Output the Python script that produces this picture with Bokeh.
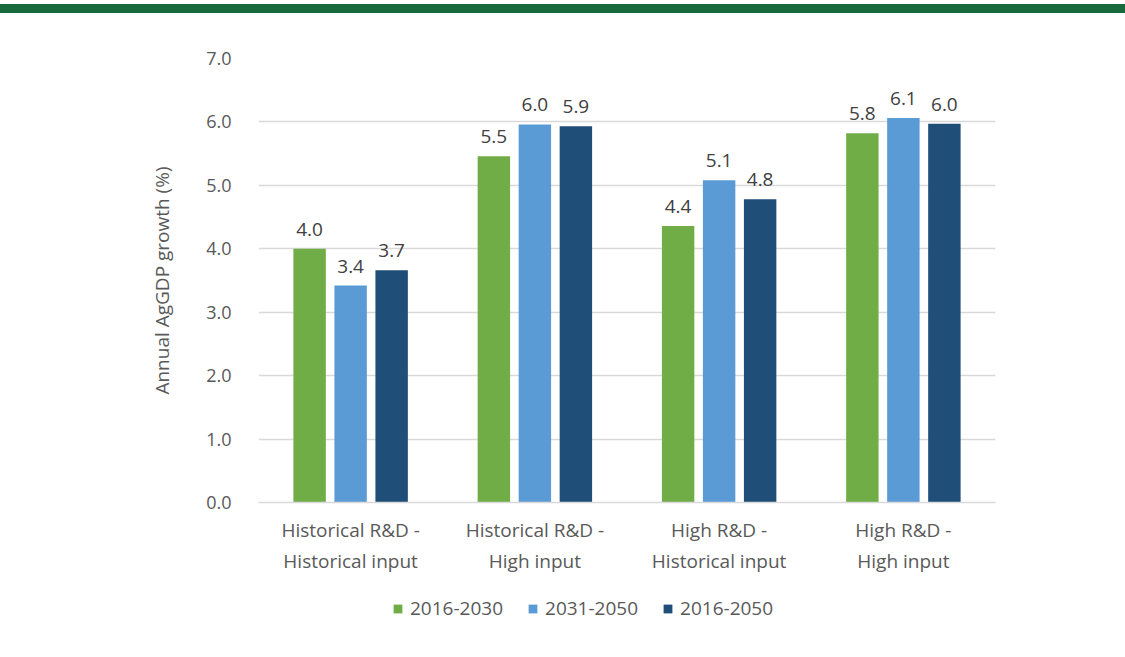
from bokeh.plotting import figure
from bokeh.models import (FactorRange, ColumnDataSource, LabelSet, Div, Legend, LegendItem,
                          CustomJSTickFormatter, Range1d)
from bokeh.transform import dodge
from bokeh.layouts import column
from bokeh.embed import file_html
from bokeh.resources import INLINE
from bokeh.core.properties import value

categories = ["Historical R&D -\nHistorical input", "Historical R&D -\nHigh input",
              "High R&D -\nHistorical input", "High R&D -\nHigh input"]
series_names = ["2016-2030", "2031-2050", "2016-2050"]
v_2016_2030 = [4.0, 5.46, 4.36, 5.82]
v_2031_2050 = [3.42, 5.96, 5.08, 6.06]
v_2016_2050 = [3.66, 5.93, 4.78, 5.97]
colors = ["#70AD47", "#5B9BD5", "#1F4E79"]
y_ticks = [0, 1, 2, 3, 4, 5, 6, 7]

FONT = "Open Sans"
TXT = "#595959"

src = ColumnDataSource(dict(
    cat=categories,
    a=v_2016_2030, b=v_2031_2050, c=v_2016_2050,
    la=[f"{v:.1f}" for v in v_2016_2030],
    lb=[f"{v:.1f}" for v in v_2031_2050],
    lc=[f"{v:.1f}" for v in v_2016_2050],
))

W = 1125
BAND = 13
MAIN_H = 567
LEG_H = 657 - BAND - MAIN_H

p = figure(x_range=FactorRange(factors=categories), y_range=(0, 7),
           width=W, height=MAIN_H, output_backend="svg", toolbar_location=None,
           min_border_left=258, min_border_right=130, min_border_top=45, min_border_bottom=78)
p.outline_line_color = None
p.background_fill_color = "white"
p.border_fill_color = "white"

offsets = [-0.2226, 0.0, 0.2226]
cols = ["a", "b", "c"]
lcols = ["la", "lb", "lc"]
for off, col, lcol, colr in zip(offsets, cols, lcols, colors):
    p.vbar(x=dodge("cat", off, range=p.x_range), top=col, width=0.176, source=src,
           fill_color=colr, line_color=None)
    labels = LabelSet(x=dodge("cat", off, range=p.x_range), y=col, text=lcol, source=src,
                      text_align="center", text_baseline="bottom", y_offset=13,
                      text_font=value(FONT), text_font_size="19px", text_color="#404040")
    p.add_layout(labels)

p.yaxis.ticker = y_ticks
p.yaxis.formatter = CustomJSTickFormatter(code="return tick.toFixed(1);")
p.yaxis.axis_line_color = None
p.yaxis.major_tick_line_color = None
p.yaxis.minor_tick_line_color = None
p.yaxis.major_label_standoff = 21
p.yaxis.major_label_text_font = FONT
p.yaxis.major_label_text_font_size = "18px"
p.yaxis.major_label_text_color = TXT
p.yaxis.axis_label = "Annual AgGDP growth (%)"
p.yaxis.axis_label_text_font = FONT
p.yaxis.axis_label_text_font_size = "19px"
p.yaxis.axis_label_text_font_style = "normal"
p.yaxis.axis_label_text_color = TXT
p.yaxis.axis_label_standoff = 28

p.xaxis.axis_line_color = "#d9d9d9"
p.xaxis.axis_line_width = 1.5
p.xaxis.major_tick_line_color = None
p.xaxis.minor_tick_line_color = None
p.xaxis.major_label_standoff = 8
p.xaxis.major_label_text_font = FONT
p.xaxis.major_label_text_font_size = "19px"
p.xaxis.major_label_text_color = TXT

p.xgrid.grid_line_color = None
p.ygrid.grid_line_color = "#d9d9d9"
p.ygrid.grid_line_width = 1.5

# legend strip (its frame is aligned with the main frame by the column layout)
lp = figure(width=W, height=LEG_H, output_backend="svg", toolbar_location=None,
            x_range=FactorRange(factors=categories), y_range=Range1d(10, 20),
            min_border_left=0, min_border_right=0, min_border_top=0, min_border_bottom=0)
lp.axis.visible = False
lp.grid.visible = False
lp.outline_line_color = None
lp.border_fill_color = "white"
lp.background_fill_color = "white"
leg_renderers = []
for col, colr in zip(cols, colors):
    leg_renderers.append(lp.vbar(x="cat", top=col, bottom=col, width=0.1, source=src,
                                 fill_color=colr, line_color=None, visible=False))
legend = Legend(items=[LegendItem(label=n, renderers=[r]) for n, r in zip(series_names, leg_renderers)],
                orientation="horizontal", location=(134, LEG_H - 41),
                padding=0, margin=0, spacing=24, label_standoff=7,
                glyph_width=11, glyph_height=11,
                inactive_fill_alpha=0,
                label_text_font=FONT, label_text_font_size="19px", label_text_color=TXT,
                border_line_color=None, background_fill_alpha=0)
lp.add_layout(legend)

band = Div(text="", width=W, height=BAND,
           styles={"background": "linear-gradient(to bottom, #ffffff 0px, #ffffff 4px, #17693B 4px, #17693B 13px)",
                   "margin": "0"})
layout = column(band, p, lp, spacing=0)

open("out.html", "w").write(file_html(layout, INLINE))
